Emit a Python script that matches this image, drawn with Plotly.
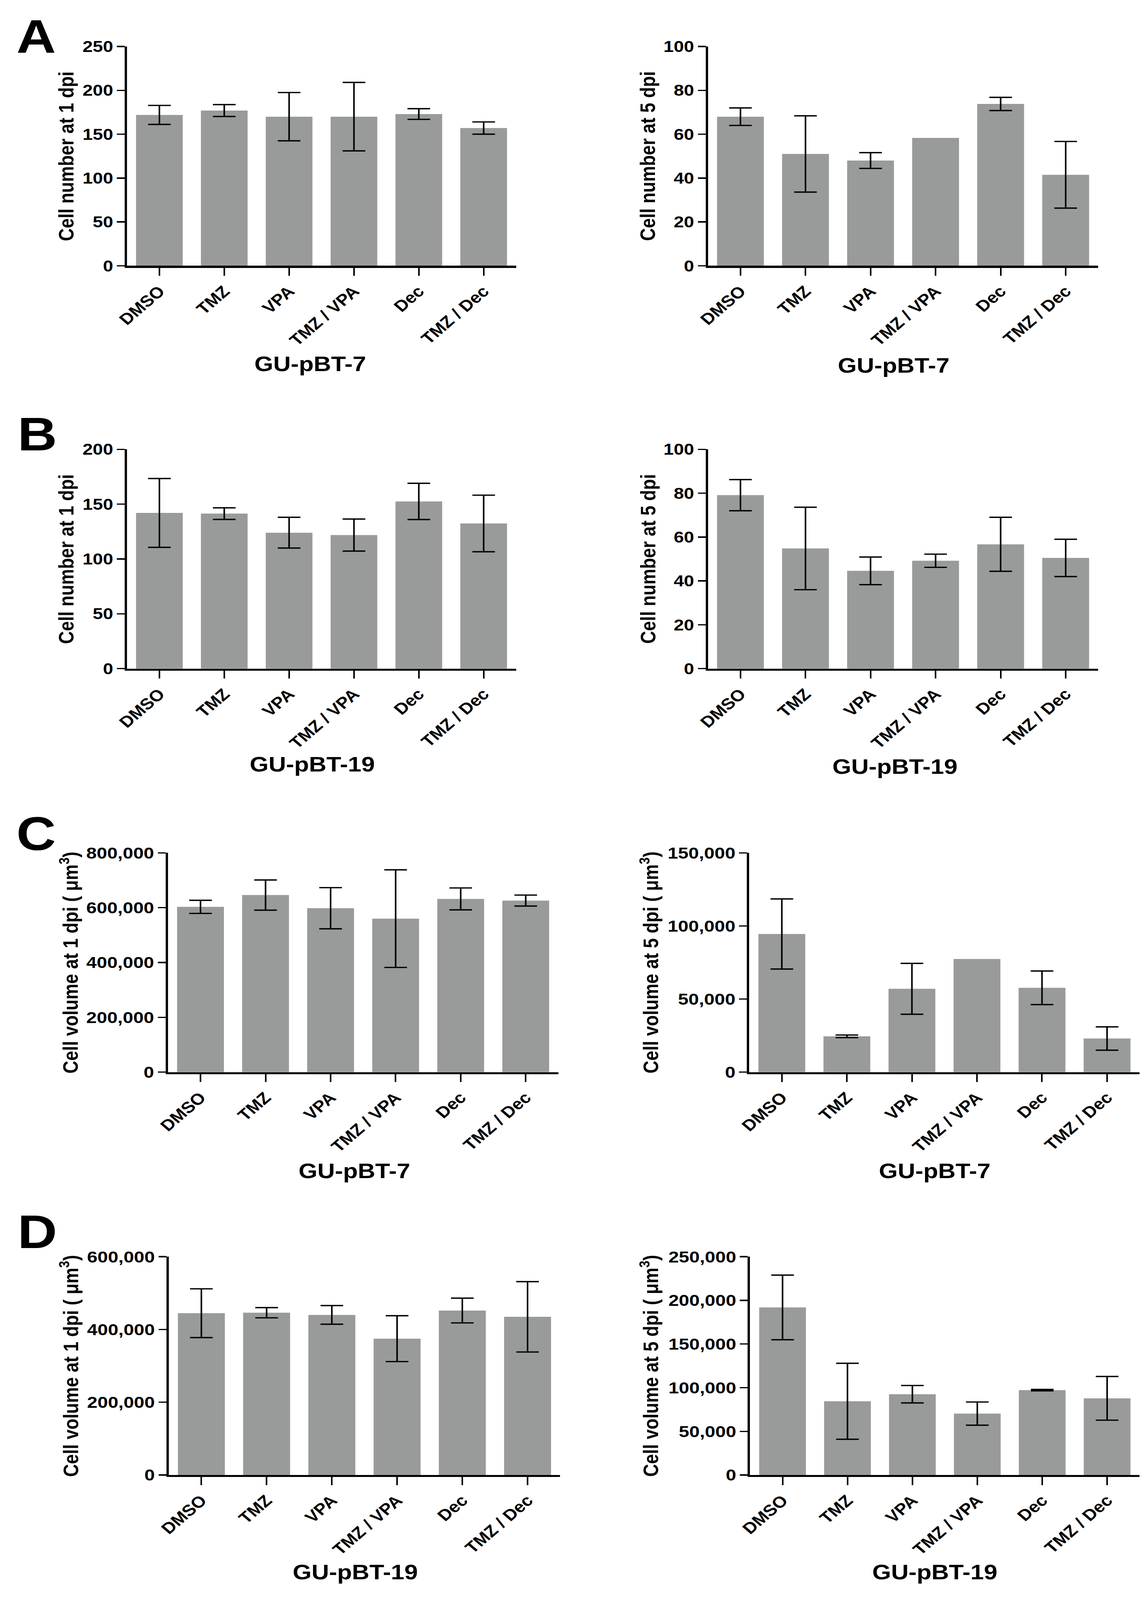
import plotly.graph_objects as go

W, H = 2930, 4775

groups = ["DMSO", "TMZ", "VPA", "TMZ / VPA", "Dec", "TMZ / Dec"]

# cell number, GU-pBT-7
num_1dpi_bt7 = [172, 177, 170, 170, 173, 157]
num_1dpi_bt7_err = [10.8, 6.8, 27.5, 39, 6.1, 7]
num_5dpi_bt7 = [68, 51, 48, 58.3, 73.8, 41.5]
num_5dpi_bt7_err = [4, 17.4, 3.6, None, 3, 15.2]

# cell number, GU-pBT-19
num_1dpi_bt19 = [142, 141.4, 124, 121.8, 152.5, 132.4]
num_1dpi_bt19_err = [31.4, 5.3, 14, 14.6, 16.5, 25.8]
num_5dpi_bt19 = [79.1, 54.8, 44.6, 49.2, 56.7, 50.5]
num_5dpi_bt19_err = [7.1, 18.8, 6.3, 3, 12.3, 8.5]

# cell volume, GU-pBT-7
vol_1dpi_bt7 = [603000, 646000, 598000, 560000, 632000, 626000]
vol_1dpi_bt7_err = [24000, 55000, 75000, 178000, 40000, 20000]
vol_5dpi_bt7 = [94500, 24500, 57000, 77400, 57700, 23000]
vol_5dpi_bt7_err = [24000, 900, 17400, None, 11500, 8000]

# cell volume, GU-pBT-19
vol_1dpi_bt19 = [444700, 446000, 440000, 374700, 452000, 434700]
vol_1dpi_bt19_err = [67000, 14000, 25600, 63000, 34000, 96700]
vol_5dpi_bt19 = [191900, 84400, 92500, 70300, 97200, 87800]
vol_5dpi_bt19_err = [37000, 43500, 10000, 13300, 800, 25000]

y_max = [250, 100, 200, 100, 800000, 150000, 600000, 250000]
y_step = [50, 20, 50, 20, 200000, 50000, 200000, 50000]

num1 = "Cell number at 1 dpi"
num5 = "Cell number at 5 dpi"
vol1 = "Cell volume at 1 dpi ( \u03bcm<sup>3</sup>)"
vol5 = "Cell volume at 5 dpi ( \u03bcm<sup>3</sup>)"

bar_col = "#989b9a"
font_fam = "Liberation Sans, Arial, sans-serif"

# (values, errors, y title, x title, x px range, y px range, y title x, x title (x, y), y tick size)
panels = [
    (num_1dpi_bt7, num_1dpi_bt7_err, num1, "GU-pBT-7", (298, 1304), (113, 775), 141, (772, 1072), 47),
    (num_5dpi_bt7, num_5dpi_bt7_err, num5, "GU-pBT-7", (1800, 2809), (113, 775), 1645, (2280, 1076), 47),
    (num_1dpi_bt19, num_1dpi_bt19_err, num1, "GU-pBT-19", (298, 1304), (1329, 1991), 141, (777, 2279), 47),
    (num_5dpi_bt19, num_5dpi_bt19_err, num5, "GU-pBT-19", (1800, 2809), (1329, 1991), 1645, (2283, 2286), 47),
    (vol_1dpi_bt7, vol_1dpi_bt7_err, vol1, "GU-pBT-7", (404, 1413), (2547, 3209), 148, (886, 3507), 48),
    (vol_5dpi_bt7, vol_5dpi_bt7_err, vol5, "GU-pBT-7", (1907, 2916), (2547, 3209), 1648, (2386, 3507), 48),
    (vol_1dpi_bt19, vol_1dpi_bt19_err, vol1, "GU-pBT-19", (406, 1418), (3766, 4425), 148, (888, 4718), 48),
    (vol_5dpi_bt19, vol_5dpi_bt19_err, vol5, "GU-pBT-19", (1909, 2916), (3766, 4425), 1648, (2386, 4718), 48),
]

letters = [("A", 63, 82), ("B", 66, 1283), ("C", 63, 2490), ("D", 66, 3691)]

fig = go.Figure()
annotations = []

for i, (vals, errs, ytitle, xtitle, xpx, ypx, ytx, xt, ytick_size) in enumerate(panels):
    n = "" if i == 0 else str(i + 1)
    fig.add_trace(go.Bar(
        x=groups, y=vals,
        xaxis="x" + n, yaxis="y" + n,
        marker=dict(color=bar_col, line=dict(width=0)),
        showlegend=False,
    ))
    # error bars only where the source shows one
    ex = [g for g, e in zip(groups, errs) if e is not None]
    ey = [v for v, e in zip(vals, errs) if e is not None]
    ee = [e for e in errs if e is not None]
    fig.add_trace(go.Scatter(
        x=ex, y=ey, mode="markers",
        xaxis="x" + n, yaxis="y" + n,
        marker=dict(size=1, opacity=0),
        error_y=dict(type="data", array=ee, visible=True,
                     color="black", thickness=4, width=29),
        showlegend=False, hoverinfo="skip",
    ))
    fig.layout["xaxis" + n] = dict(
        domain=[xpx[0] / W, xpx[1] / W], anchor="y" + n,
        range=[-0.5, 5.5], showline=True, linewidth=6, linecolor="black",
        ticks="outside", ticklen=24, tickwidth=4, tickcolor="black",
        tickangle=-45, showgrid=False, zeroline=False,
        tickfont=dict(family=font_fam, size=47, color="black", weight="bold"),
    )
    fig.layout["yaxis" + n] = dict(
        domain=[1 - ypx[1] / H, 1 - ypx[0] / H], anchor="x" + n,
        range=[0, y_max[i]], dtick=y_step[i], tickformat=",d",
        showline=True, linewidth=6, linecolor="black",
        ticks="outside", ticklen=20, tickwidth=4, tickcolor="black",
        showgrid=False, zeroline=False,
        tickfont=dict(family=font_fam, size=ytick_size, color="black", weight="bold"),
    )
    annotations.append(dict(
        text=ytitle, x=ytx / W, y=1 - (ypx[0] + ypx[1]) / 2 / H,
        xref="paper", yref="paper", xanchor="center", yanchor="middle",
        textangle=-90, showarrow=False,
        font=dict(family=font_fam, size=53, color="black", weight="bold"),
    ))
    annotations.append(dict(
        text=xtitle, x=xt[0] / W, y=1 - xt[1] / H,
        xref="paper", yref="paper", xanchor="center", yanchor="middle",
        showarrow=False,
        font=dict(family=font_fam, size=62, color="black", weight="bold"),
    ))

for lab, lx, ly in letters:
    annotations.append(dict(
        text=lab, x=lx / W, y=1 - ly / H,
        xref="paper", yref="paper", xanchor="center", yanchor="middle",
        showarrow=False,
        font=dict(family=font_fam, size=140, color="black", weight="bold"),
    ))

fig.update_layout(
    width=W, height=H,
    margin=dict(l=0, r=0, t=0, b=0),
    paper_bgcolor="white", plot_bgcolor="white",
    bargap=0.28,
    annotations=annotations,
)

# the page is drawn at 2930x4775; fit it to the window if that is smaller
fit_js = (
    "var gd=document.getElementById('{plot_id}');"
    "document.body.style.margin='0';"
    "document.body.style.overflow='hidden';"
    "var sx=window.innerWidth/%d, sy=window.innerHeight/%d;"
    "gd.style.transformOrigin='0 0';"
    "gd.style.transform='scale('+sx+','+sy+')';" % (W, H)
)

fig.write_html("out.html", config={"displayModeBar": False}, post_script=fit_js)
